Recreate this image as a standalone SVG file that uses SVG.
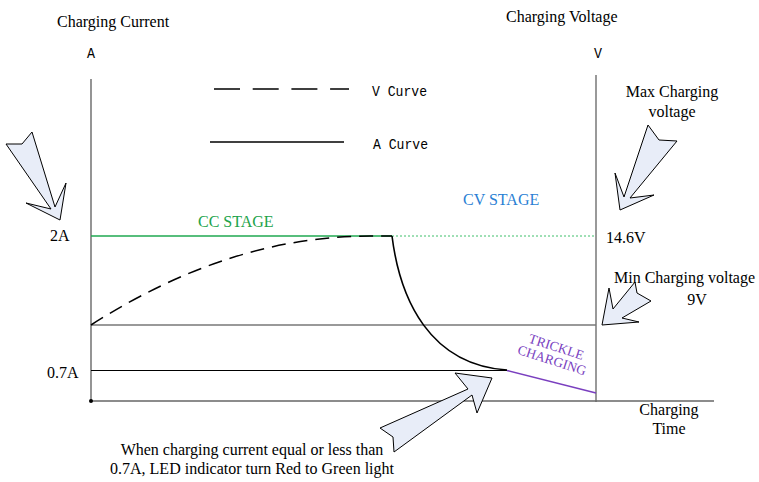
<svg xmlns="http://www.w3.org/2000/svg" width="759" height="482" viewBox="0 0 759 482">
<style>
.t{font-family:"Liberation Serif","Times New Roman",serif;font-size:16px;fill:#000}
.m{font-family:"Liberation Mono","Courier New",monospace;font-size:15px;fill:#000}
.ar{fill:#e8edf8;stroke:#000;stroke-width:1;stroke-linejoin:miter}
</style>
<rect width="759" height="482" fill="#fff"/>
<g id="axes" fill="none">
<line x1="91" y1="79" x2="91" y2="401" stroke="#7a7a7a" stroke-width="1.6"/>
<line x1="596" y1="75" x2="596" y2="402" stroke="#555" stroke-width="1.2"/>
<line x1="91" y1="401" x2="714" y2="401" stroke="#666" stroke-width="1.6"/>
<line x1="91" y1="325" x2="596" y2="325" stroke="#777" stroke-width="1.6"/>
<line x1="91" y1="370.5" x2="508" y2="370.5" stroke="#000" stroke-width="1.1"/>
<circle cx="91" cy="401" r="2" fill="#000"/>
</g>
<g id="connectors" fill="none">
<line x1="91" y1="236" x2="392" y2="236" stroke="#1fa850" stroke-width="1.4"/>
<line x1="392" y1="236" x2="596" y2="236" stroke="#3fbf6a" stroke-width="1" stroke-dasharray="2 2"/>
<path d="M91,325 Q230,236 370,236 L392,236" stroke="#000" stroke-width="1.5" stroke-dasharray="14 8"/>
<path d="M392,236 C400,300 430,365 507,370" stroke="#000" stroke-width="1.6"/>
<line x1="507" y1="370.5" x2="596" y2="393" stroke="#7a3fbf" stroke-width="1.6"/>
<line x1="214" y1="89" x2="349" y2="89" stroke="#000" stroke-width="1.6" stroke-dasharray="26 12.7"/>
<line x1="210" y1="142" x2="344" y2="142" stroke="#000" stroke-width="1.6"/>
</g>
<g id="arrow-2a"><polygon class="ar" points="6,144 22,144 32,132 55,207 66,183 60,220 26,203 51,209"/></g>
<g id="arrow-max"><polygon class="ar" points="648,125 659,140 677,141 630,198 654,195 620,210 615,173 624,197"/></g>
<g id="arrow-min"><polygon class="ar" points="635,282 637,293 651,301 622,318 639,322 602,325 609,288 613,309"/></g>
<g id="arrow-led"><polygon class="ar" points="380,428 468,389 455,373 492,378 477,413 472,395 394,452 393,437"/></g>
<g id="labels">
<text class="t" x="57" y="27">Charging Current</text>
<text class="m" x="87" y="58" textLength="8" lengthAdjust="spacingAndGlyphs">A</text>
<text class="t" x="506" y="22">Charging Voltage</text>
<text class="m" x="594" y="58" textLength="8" lengthAdjust="spacingAndGlyphs">V</text>
<text class="m" x="372" y="96" textLength="55" lengthAdjust="spacingAndGlyphs">V Curve</text>
<text class="m" x="373" y="149" textLength="55" lengthAdjust="spacingAndGlyphs">A Curve</text>
<text class="t" x="198" y="227" style="fill:#21a34a">CC STAGE</text>
<text class="t" x="463" y="205" style="fill:#2a7fd4">CV STAGE</text>
<text class="t" x="50" y="241">2A</text>
<text class="t" x="606" y="243">14.6V</text>
<text class="t" x="672" y="97" text-anchor="middle">Max Charging</text>
<text class="t" x="672" y="117" text-anchor="middle">voltage</text>
<text class="t" x="614" y="283">Min Charging voltage</text>
<text class="t" x="697" y="305" text-anchor="middle">9V</text>
<text class="t" x="47" y="378">0.7A</text>
<g transform="translate(554,354) rotate(18)">
<text class="t" x="0" y="-3" text-anchor="middle" style="fill:#7a3fbf;font-size:13.5px">TRICKLE</text>
<text class="t" x="0" y="11" text-anchor="middle" style="fill:#7a3fbf;font-size:13.5px">CHARGING</text>
</g>
<text class="t" x="669" y="415" text-anchor="middle">Charging</text>
<text class="t" x="669" y="434" text-anchor="middle">Time</text>
<text class="t" x="252" y="455" text-anchor="middle">When charging current equal or less than</text>
<text class="t" x="252" y="474" text-anchor="middle">0.7A, LED indicator turn Red to Green light</text>
</g>
</svg>
